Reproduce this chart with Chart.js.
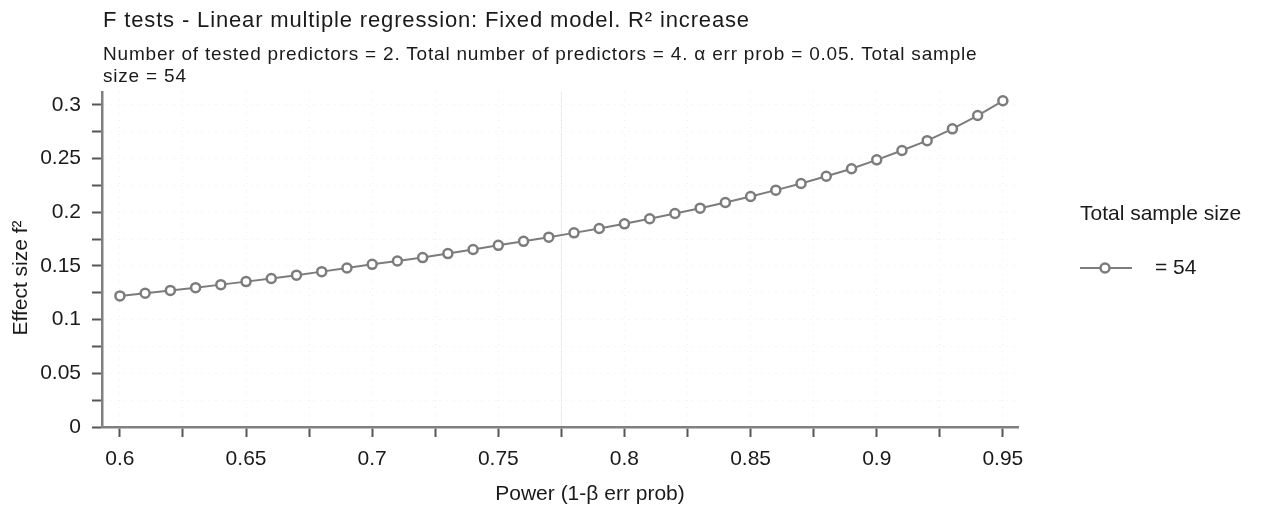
<!DOCTYPE html>
<html>
<head>
<meta charset="utf-8">
<script src="https://cdn.jsdelivr.net/npm/chart.js@4"></script>
<style>
  html, body { margin: 0; padding: 0; background: #fff; }
  #wrap { position: relative; width: 1266px; height: 512px; font-family: "Liberation Sans", Arial, sans-serif; color: #1a1a1a; }
  #title { position: absolute; left: 103px; top: 9px; font-size: 22px; line-height: 22px; letter-spacing: 0.85px; white-space: nowrap; }
  #subtitle { position: absolute; left: 103px; top: 43px; font-size: 19px; line-height: 22px; letter-spacing: 0.8px; white-space: nowrap; }
  #box { position: absolute; left: 0; top: 0; width: 1266px; height: 512px; }
</style>
</head>
<body>
<div id="wrap">
  <div id="box"><canvas id="chart"></canvas></div>
  <div id="title">F tests - Linear multiple regression: Fixed model. R² increase</div>
  <div id="subtitle">Number of tested predictors = 2. Total number of predictors = 4. α err prob = 0.05. Total sample<br>size = 54</div>
</div>
<script>
// power (1-beta) on the x axis
const powerValues = [0.60, 0.61, 0.62, 0.63, 0.64, 0.65, 0.66, 0.67, 0.68, 0.69,
                     0.70, 0.71, 0.72, 0.73, 0.74, 0.75, 0.76, 0.77, 0.78, 0.79,
                     0.80, 0.81, 0.82, 0.83, 0.84, 0.85, 0.86, 0.87, 0.88, 0.89,
                     0.90, 0.91, 0.92, 0.93, 0.94, 0.95];
// effect size f2
const effectSizes = [0.1221, 0.1246, 0.1272, 0.1298, 0.1326, 0.1354, 0.1383, 0.1414, 0.1447, 0.1481,
                     0.1515, 0.1546, 0.1578, 0.1615, 0.1653, 0.1692, 0.1729, 0.1768, 0.1808, 0.1849,
                     0.1892, 0.1939, 0.1988, 0.2038, 0.2091, 0.2147, 0.2206, 0.2268, 0.2335, 0.2405,
                     0.2488, 0.2575, 0.2667, 0.2777, 0.2901, 0.3038];
const xTickLabels = ["0.6", "0.65", "0.7", "0.75", "0.8", "0.85", "0.9", "0.95"];
const yTickLabels = ["0", "0.05", "0.1", "0.15", "0.2", "0.25", "0.3"];
const seriesLabel = "= 54";
const legendTitle = "Total sample size";
const xTitle = "Power (1-β err prob)";
const yTitle = "Effect size f²";

const grey = "#7c7c7c";
const fontFamily = "'Liberation Sans', Arial, sans-serif";
const points = powerValues.map((p, i) => ({ x: p, y: effectSizes[i] }));

function majorLabel(list, v) {
    const k = v / 0.05;
    if (Math.abs(k - Math.round(k)) > 1e-6) return "";
    const s = String(parseFloat(v.toFixed(2)));
    return list.includes(s) ? s : "";
}

// legend on the right, axis titles, faint crosshair line
const extras = {
    id: "extras",
    beforeDatasetsDraw(chart) {
        const c = chart.ctx;
        const x = chart.scales.x.getPixelForValue(0.775);
        c.save();
        c.strokeStyle = "rgba(0,0,0,0.07)";
        c.lineWidth = 1;
        c.beginPath();
        c.moveTo(x, chart.chartArea.top);
        c.lineTo(x, chart.chartArea.bottom);
        c.stroke();
        c.restore();
    },
    afterDraw(chart) {
        const c = chart.ctx;
        c.save();
        c.fillStyle = "#1a1a1a";
        c.font = "21px " + fontFamily;
        c.textBaseline = "middle";
        c.fillText(legendTitle, 1080, 214);
        c.strokeStyle = grey;
        c.lineWidth = 2;
        c.beginPath();
        c.moveTo(1080, 268);
        c.lineTo(1132, 268);
        c.stroke();
        c.beginPath();
        c.arc(1105, 268, 4.5, 0, Math.PI * 2);
        c.fillStyle = "#fff";
        c.fill();
        c.lineWidth = 2.5;
        c.stroke();
        c.fillStyle = "#1a1a1a";
        c.fillText(seriesLabel, 1155, 268);

        c.textAlign = "center";
        c.fillText(xTitle, 590, 494);

        c.translate(21, 278);
        c.rotate(-Math.PI / 2);
        c.fillText(yTitle, 0, 0);
        c.restore();
    }
};

const tickFont = { family: fontFamily, size: 21 };
const gridOpts = { color: "rgba(0,0,0,0.07)", tickColor: "#555", tickLength: 10, tickWidth: 2 };

const ctx = document.getElementById("chart").getContext("2d");
const chart = new Chart(ctx, {
    type: "scatter",
    data: {
        datasets: [{
            label: seriesLabel,
            data: points,
            showLine: true,
            borderColor: grey,
            borderWidth: 2,
            pointRadius: 4.5,
            pointBorderWidth: 2.5,
            pointBorderColor: grey,
            pointBackgroundColor: "#fff"
        }]
    },
    options: {
        responsive: true,
        maintainAspectRatio: false,
        animation: false,
        layout: { padding: { top: 92, right: 248, bottom: 0, left: 0 } },
        plugins: { legend: { display: false }, tooltip: { enabled: false } },
        scales: {
            x: {
                type: "linear",
                min: 0.5929,
                max: 0.956,
                afterFit(scale) { scale.height = 85; },
                ticks: {
                    stepSize: 0.025,
                    includeBounds: false,
                    autoSkip: false,
                    maxRotation: 0,
                    padding: 10,
                    color: "#1a1a1a",
                    font: tickFont,
                    callback: v => majorLabel(xTickLabels, v)
                },
                grid: gridOpts,
                border: { color: "#808080", width: 2.5, dash: [1, 6] }
            },
            y: {
                min: 0,
                max: 0.312,
                afterFit(scale) { scale.width = 102; },
                ticks: {
                    stepSize: 0.025,
                    includeBounds: false,
                    autoSkip: false,
                    padding: 11,
                    color: "#1a1a1a",
                    font: tickFont,
                    callback: v => majorLabel(yTickLabels, v)
                },
                grid: gridOpts,
                border: { color: "#808080", width: 2.5, dash: [1, 6] }
            }
        }
    },
    plugins: [extras]
});
</script>
</body>
</html>
